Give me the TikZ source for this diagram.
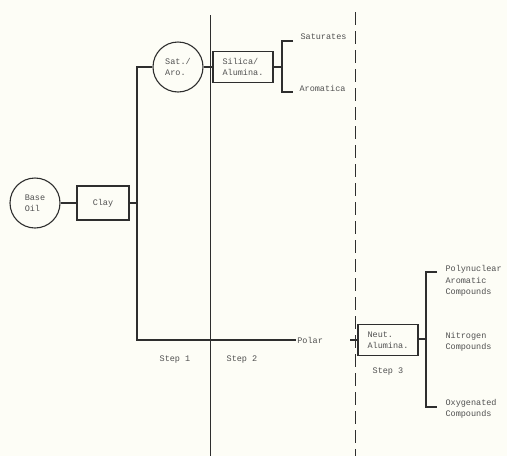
\documentclass[tikz,border=0pt]{standalone}
\usepackage{fontspec}
\setmonofont{Liberation Mono}
\usepackage{tikz}
\usetikzlibrary{positioning}
\definecolor{inkColor}{HTML}{2E2E2E}
\definecolor{textColor}{HTML}{505050}
\definecolor{paperColor}{HTML}{FDFDF6}

\begin{document}
\begin{tikzpicture}[x=1pt, y=-1pt, node distance=68pt, line width=1.1pt, draw=inkColor,
		font=\ttfamily\fontsize{8.5}{11.5}\selectfont, text=textColor,
		vessel/.style={draw=inkColor, circle, minimum size=50pt, inner sep=0pt, align=left},
		column/.style={draw=inkColor, rectangle, minimum width=60pt, minimum height=31pt, inner sep=2pt, align=left},
		product/.style={anchor=west, inner sep=1pt, align=left}]
					\fill[paperColor] (0,0) rectangle (507,456);
					\useasboundingbox (0,0) rectangle (507,456);
					
					% Step 1
					\node[vessel] (base) at (35,203) {Base\\Oil};
					\node[column, minimum width=52pt, minimum height=34pt, right of=base] (clay) {Clay};
					\node[vessel] (sat) at (178,67) {Sat./\\Aro.};
					\coordinate (bustop) at (137,67);
					\coordinate (busbot) at (137,340);
					
					% Step 2
					\node[column, inner sep=1pt, right of=sat, xshift=-3pt] (silica) {Silica/\\Alumina.};
					\coordinate (br1) at (282,67);
					\coordinate (br1top) at (293,41);
					\coordinate (br1bot) at (293,92);
					\node[product] (satur) at (299,37) {Saturates};
					\node[product] (aroma) at (298,88) {Aromatica};
					
					% Step 3
					\node[column] (neut) at (388,340) {Neut.\\Alumina.};
					\node[inner sep=1pt, left=33pt of neut] (polar) {Polar};
					\coordinate (stub) at (350,340);
					\coordinate (br2) at (426,339);
					\coordinate (br2top) at (437,272);
					\coordinate (br2bot) at (437,407);
					\node[product] (pna) at (444,281) {Polynuclear\\Aromatic\\Compounds};
					\node[product] (nitro) at (444,342) {Nitrogen\\Compounds};
					\node[product] (oxy) at (444,409) {Oxygenated\\Compounds};
					
					% Step labels
					\node (step1) at (175,360) {Step 1};
					\node (step2) at (242,360) {Step 2};
					\node[below=8pt of neut] (step3) {Step 3};
					
					% Dividers
					\coordinate (div1top) at (210,15);
					\coordinate (div1bot) at (210,456);
					\coordinate (div2top) at (355,12);
					\coordinate (div2bot) at (355,456);
					\draw[line width=0.9pt] (div1top) -- (div1bot);
					\draw[line width=0.9pt, dash pattern=on 13pt off 6pt] (div2top) -- (div2bot);
					
					% Connections
					\draw (base) -- (clay);
					\draw (clay) -- (clay -| bustop);
					\draw (sat) -- (bustop) -- (busbot) -- (polar.west);
					\draw (sat) -- (silica);
					\draw (silica) -- (br1);
					\draw (br1top) -| (br1) |- (br1bot);
					\draw (stub) -- (neut);
					\draw (neut.east |- br2) -- (br2);
					\draw (br2top) -| (br2) |- (br2bot);
				\end{tikzpicture}
\end{document}
